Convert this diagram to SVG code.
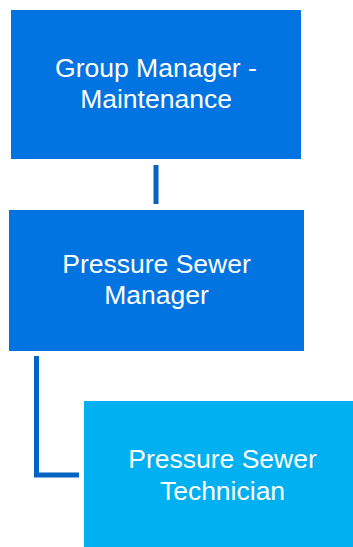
<svg xmlns="http://www.w3.org/2000/svg" width="353" height="547" viewBox="0 0 353 547">
<style>
.t{font-family:"Liberation Sans","DejaVu Sans",sans-serif;font-size:26.5px;fill:#ffffff;text-anchor:middle}
.c{stroke:#0563C1;stroke-width:5;fill:none}
</style>
<rect width="353" height="547" fill="#ffffff"/>
<g id="connectors">
<line class="c" x1="156" y1="165" x2="156" y2="204"/>
<polyline class="c" points="36.5,356 36.5,475 79,475"/>
</g>
<g id="group-manager">
<rect x="11" y="10" width="290" height="149" fill="#0274E2"/>
<text class="t" x="156" y="77">Group Manager -</text>
<text class="t" x="156" y="108">Maintenance</text>
</g>
<g id="pressure-sewer-manager">
<rect x="9" y="210" width="295" height="141" fill="#0274E2"/>
<text class="t" x="156.5" y="273">Pressure Sewer</text>
<text class="t" x="156.5" y="304">Manager</text>
</g>
<g id="pressure-sewer-technician">
<rect x="84" y="401" width="269" height="146" fill="#00B0F0"/>
<text class="t" x="222.5" y="468">Pressure Sewer</text>
<text class="t" x="222.5" y="500">Technician</text>
</g>
</svg>
